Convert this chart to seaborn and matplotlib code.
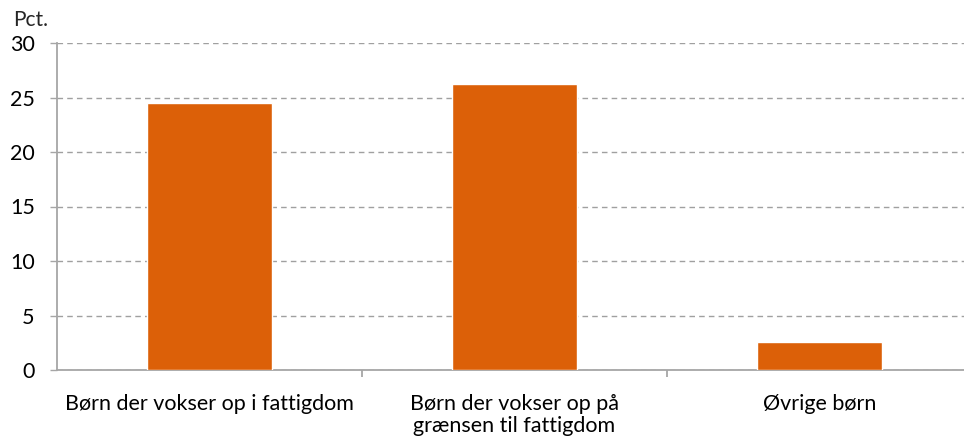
import matplotlib
matplotlib.use("Agg")
import matplotlib.pyplot as plt
import seaborn as sns
import pandas as pd

categories = ["Børn der vokser op i fattigdom",
              "Børn der vokser op på\ngrænsen til fattigdom",
              "Øvrige børn"]
values = [24.5, 26.2, 2.6]
yticks = [0, 5, 10, 15, 20, 25, 30]

sns.set_theme(style="white")
plt.rcParams['font.family'] = ['Lato', 'DejaVu Sans']

df = pd.DataFrame({"cat": categories, "val": values})

fig = plt.figure(figsize=(9.64, 4.42), dpi=100)
ax = fig.add_axes([57/964, 72/442, 915/964, 327/442])
sns.barplot(data=df, x="cat", y="val", color="#DC6008", width=0.41,
            saturation=1, ax=ax, zorder=3)

ax.set_xlim(-0.5, 2.5)
ax.set_ylim(0, 30)
ax.set_yticks(yticks)
ax.set_xlabel("")
ax.set_ylabel("")
ax.yaxis.grid(True, linestyle=(0, (4, 3)), color="#A0A0A0", linewidth=1)
ax.set_axisbelow(True)
for s in ["top", "right"]:
    ax.spines[s].set_visible(False)
for s in ["left", "bottom"]:
    ax.spines[s].set_color("#A6A6A6")
    ax.spines[s].set_linewidth(1.3)
ax.tick_params(axis="y", which="major", left=True, length=5, width=1,
               color="#A6A6A6", labelsize=15.5, pad=11, labelcolor="black")
ax.tick_params(axis="x", which="major", bottom=False, length=0,
               labelsize=15.5, pad=17, labelcolor="black")
ax.set_xticks([0.5, 1.5], minor=True)
ax.tick_params(axis="x", which="minor", bottom=True, length=5, width=1.3,
               color="#A6A6A6")
for lbl in ax.get_xticklabels():
    lbl.set_va("top")
    lbl.set_linespacing(1.12)

fig.text(13/964, 1 - 20/442, "Pct.", fontsize=15, va="center", ha="left")

fig.savefig("out.png", dpi=100)
